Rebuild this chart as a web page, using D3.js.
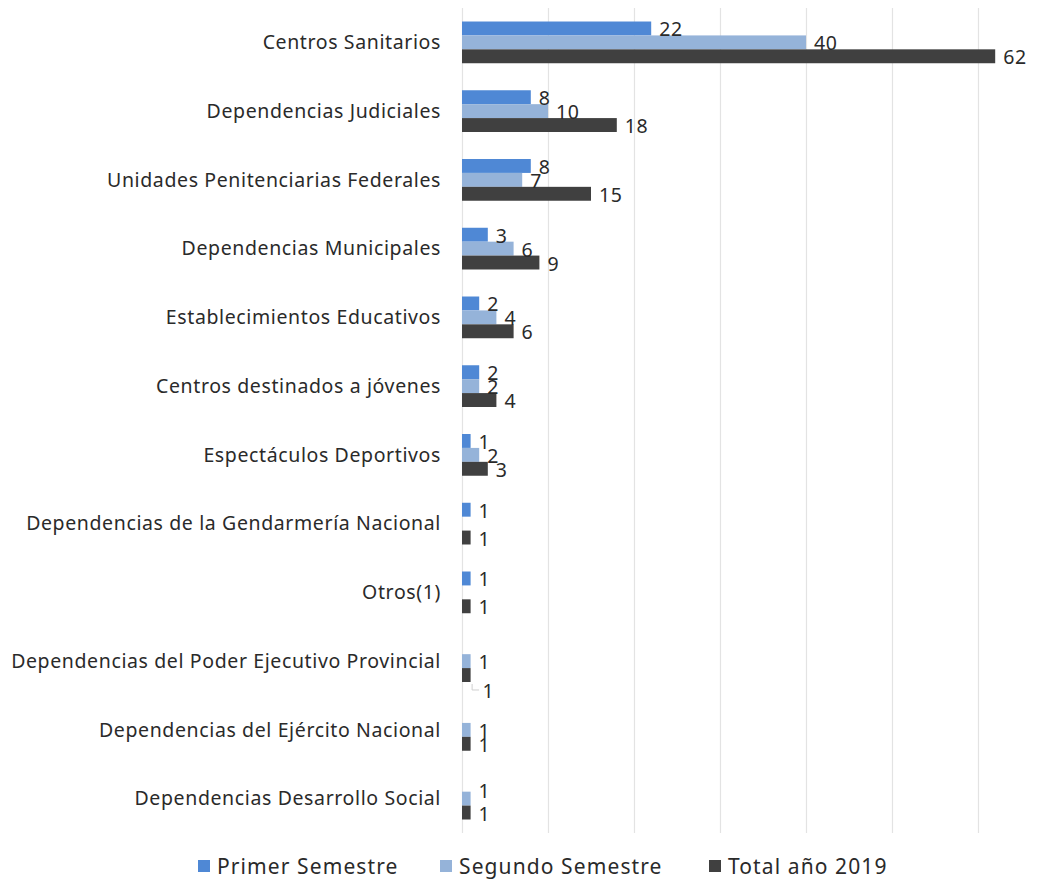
<!DOCTYPE html>
<html>
<head>
<meta charset="utf-8">
<script src="https://cdn.jsdelivr.net/npm/d3@7"></script>
<style>
  html, body { margin: 0; padding: 0; background: #ffffff; }
  svg { display: block; }
  text { font-family: "Noto Sans", sans-serif; fill: #2a2a2a; }
</style>
</head>
<body>
<svg id="chart" width="1053" height="882"></svg>
<script>
// Categories, top to bottom
const categories = [
  "Centros Sanitarios",
  "Dependencias Judiciales",
  "Unidades Penitenciarias Federales",
  "Dependencias Municipales",
  "Establecimientos Educativos",
  "Centros destinados a jóvenes",
  "Espectáculos Deportivos",
  "Dependencias de la Gendarmería Nacional",
  "Otros(1)",
  "Dependencias del Poder Ejecutivo Provincial",
  "Dependencias del Ejército Nacional",
  "Dependencias Desarrollo Social"
];

// Series values (null = no bar / no label)
const primerSemestre  = [22, 8, 8, 3, 2, 2, 1, 1, 1, null, null, null];
const segundoSemestre = [40, 10, 7, 6, 4, 2, 2, null, null, 1, 1, 1];
const totalAnio       = [62, 18, 15, 9, 6, 4, 3, 1, 1, 1, 1, 1];

const seriesNames = ["Primer Semestre", "Segundo Semestre", "Total año 2019"];
const xTicks = [0, 10, 20, 30, 40, 50, 60];

const colors = ["#4f88d5", "#95b3d9", "#404040"];
const seriesValues = [primerSemestre, segundoSemestre, totalAnio];

const svg = d3.select("#chart");

const x = d3.scaleLinear().domain([0, 60]).range([462, 978]);
const y = d3.scaleBand().domain(categories).range([8, 833])
  .paddingInner(0.393).paddingOuter(0.1965);
const ySub = d3.scaleBand().domain(seriesNames).range([0, y.bandwidth()]);

// Vertical gridlines
svg.append("g").selectAll("line")
  .data(xTicks)
  .join("line")
  .attr("x1", d => Math.round(x(d)) + 0.5)
  .attr("x2", d => Math.round(x(d)) + 0.5)
  .attr("y1", 8)
  .attr("y2", 833)
  .attr("stroke", "#e3e3e3")
  .attr("stroke-width", 1.2);

// Flattened bar records
const records = [];
categories.forEach((c, i) => {
  seriesNames.forEach((s, j) => {
    const v = seriesValues[j][i];
    if (v !== null) records.push({ cat: c, series: s, idx: j, value: v });
  });
});

// Bars
svg.append("g").selectAll("rect")
  .data(records)
  .join("rect")
  .attr("x", x(0))
  .attr("y", d => y(d.cat) + ySub(d.series))
  .attr("width", d => x(d.value) - x(0))
  .attr("height", ySub.bandwidth())
  .attr("fill", d => colors[d.idx]);

// Value labels; a few are moved off their bar to reduce crowding
const nudged = d => d.cat === "Dependencias del Poder Ejecutivo Provincial" && d.idx === 2;
const raised = d => d.cat === "Dependencias Desarrollo Social" && d.idx === 1;
const labelG = svg.append("g");
labelG.selectAll("text")
  .data(records)
  .join("text")
  .attr("x", d => x(d.value) + (nudged(d) ? 12 : 8))
  .attr("y", d => y(d.cat) + ySub(d.series) + ySub.bandwidth() / 2
    + (nudged(d) ? 16 : raised(d) ? -8 : 1))
  .attr("dy", "0.36em")
  .attr("font-size", 19.5)
  .attr("letter-spacing", 0.6)
  .text(d => d.value);

// Leader line for the label moved below its bar
records.filter(nudged).forEach(d => {
  const bx = x(d.value) + 1.5;
  const by = y(d.cat) + ySub(d.series) + ySub.bandwidth() + 2;
  labelG.append("path")
    .attr("d", `M${bx},${by} V${by + 6} H${bx + 7}`)
    .attr("fill", "none")
    .attr("stroke", "#cfcfcf")
    .attr("stroke-width", 1);
});

// Category labels
svg.append("g").selectAll("text")
  .data(categories)
  .join("text")
  .attr("x", 441)
  .attr("y", d => y(d) + y.bandwidth() / 2)
  .attr("dy", "0.35em")
  .attr("text-anchor", "end")
  .attr("font-size", 19.5)
  .attr("letter-spacing", 0.62)
  .text(d => d);

// Legend
const legendX = [198, 440, 709];
const legend = svg.append("g");
seriesNames.forEach((s, j) => {
  legend.append("rect")
    .attr("x", legendX[j])
    .attr("y", 860)
    .attr("width", 12)
    .attr("height", 12)
    .attr("fill", colors[j]);
  legend.append("text")
    .attr("x", legendX[j] + 19)
    .attr("y", 866)
    .attr("dy", "0.36em")
    .attr("font-size", 21)
    .attr("letter-spacing", 1.1)
    .text(s);
});
</script>
</body>
</html>
